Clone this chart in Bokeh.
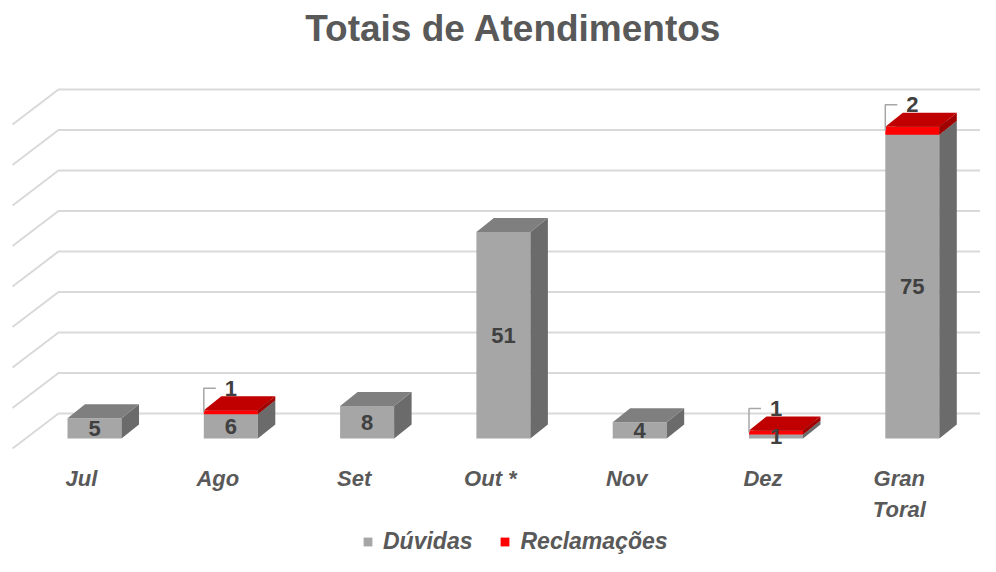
import numpy as np
from bokeh.plotting import figure
from bokeh.models import Range1d, Label, Legend, LegendItem
from bokeh.core.properties import value
from bokeh.embed import file_html
from bokeh.resources import INLINE

# ---------------- data ----------------
categories = ["Jul", "Ago", "Set", "Out *", "Nov", "Dez", "Gran\nToral"]
duvidas = [5, 6, 8, 51, 4, 1, 75]
reclamacoes = [0, 1, 0, 0, 0, 1, 2]
grid_values = [0, 10, 20, 30, 40, 50, 60, 70, 80]
series_names = ["Dúvidas", "Reclamações"]
title_text = "Totais de Atendimentos"

# ---------------- layout / style ----------------
W, H = 980, 556
PX_X = 136.3          # pixels per category step
PX_Y = 4.05           # pixels per unit of value
X0 = -94 / PX_X
Y0 = -(H - 438) / PX_Y
HW = 27 / PX_X        # half width of a column front face
DX = 17.5 / PX_X      # depth offset (x)
DY = 14 / PX_Y        # depth offset (y)
BACK_LEFT = X0 + 58 / PX_X
WALL_FRONT = X0 + 12 / PX_X
BACK_UP = 25 / PX_Y
FLOOR_DROP = 35 / PX_Y

FONT = "Liberation Sans"
TXT = "#595959"
LAB = "#404040"
GREY = ("#A6A6A6", "#6B6B6B", "#7F7F7F")   # front, side, top
RED = ("#FF0000", "#A00000", "#C00000")

p = figure(width=W, height=H, output_backend="svg", toolbar_location=None,
           x_range=Range1d(X0, X0 + W / PX_X), y_range=Range1d(Y0, Y0 + H / PX_Y),
           x_axis_location=None, y_axis_location=None, min_border=0)
p.outline_line_color = None
p.xgrid.visible = False
p.ygrid.visible = False

# ---------------- gridlines (back wall + side wall) ----------------
gx, gy = [], []
x_end = X0 + W / PX_X
for v in grid_values:
    yb = v + BACK_UP
    gx.append([WALL_FRONT, BACK_LEFT, x_end])
    gy.append([yb - FLOOR_DROP, yb, yb])
p.multi_line(gx, gy, line_color="#D9D9D9", line_width=2)

# ---------------- 3D columns ----------------
idx = np.arange(len(categories), dtype=float)
d = np.array(duvidas, dtype=float)
r = np.array(reclamacoes, dtype=float)

fronts = []
for bottom, top, cols in [(np.zeros_like(d), d, GREY), (d, d + r, RED)]:
    m = top > bottom
    xi, b, t = idx[m], bottom[m], top[m]
    fr = p.quad(left=xi - HW, right=xi + HW, bottom=b, top=t,
                fill_color=cols[0], line_color=None)
    fronts.append(fr)
    side_x = [[x + HW, x + HW + DX, x + HW + DX, x + HW] for x in xi]
    side_y = [[bb, bb + DY, tt + DY, tt] for bb, tt in zip(b, t)]
    p.patches(side_x, side_y, fill_color=cols[1], line_color=None)
    top_x = [[x - HW, x + HW, x + HW + DX, x - HW + DX] for x in xi]
    top_y = [[tt, tt, tt + DY, tt + DY] for tt in t]
    p.patches(top_x, top_y, fill_color=cols[2], line_color=None)

# ---------------- data labels ----------------
p.text(x=idx, y=d / 2, text=[str(int(v)) for v in d],
       text_font=value(FONT), text_font_style="bold", text_font_size="22px",
       text_color=LAB, text_align="center", text_baseline="middle")

m = r > 0
lab_y = d[m] + r[m] + 22 / PX_Y
p.multi_line([[x - HW, x - HW, x - 15 / PX_X] for x in idx[m]],
             [[dd + rr / 2, ly, ly] for dd, rr, ly in zip(d[m], r[m], lab_y)],
             line_color="#A6A6A6", line_width=1.5)
p.text(x=idx[m], y=lab_y, text=[str(int(v)) for v in r[m]],
       text_font=value(FONT), text_font_style="bold", text_font_size="22px",
       text_color=LAB, text_align="center", text_baseline="middle")

# ---------------- category labels ----------------
p.text(x=idx - 13 / PX_X, y=np.full(len(idx), -27 / PX_Y), text=categories,
       text_font=value(FONT), text_font_style="bold italic", text_font_size="22px",
       text_color=TXT, text_align="center", text_baseline="top", text_line_height=1.25)

# ---------------- title ----------------
p.add_layout(Label(x=513, y=H - 28, x_units="screen", y_units="screen", text=title_text,
                   text_font=FONT, text_font_style="bold", text_font_size="37px",
                   text_color=TXT, text_align="center", text_baseline="middle"))

# ---------------- legend ----------------
legend = Legend(items=[LegendItem(label=series_names[0], renderers=[fronts[0]]),
                       LegendItem(label=series_names[1], renderers=[fronts[1]])],
                orientation="horizontal", location=(362, 1),
                label_text_font=FONT, label_text_font_style="bold italic",
                label_text_font_size="23px", label_text_color=TXT,
                glyph_width=11, glyph_height=11, spacing=27, label_standoff=10,
                padding=0, margin=0, border_line_color=None, background_fill_alpha=0)
p.add_layout(legend)

open("out.html", "w").write(file_html(p, INLINE))
